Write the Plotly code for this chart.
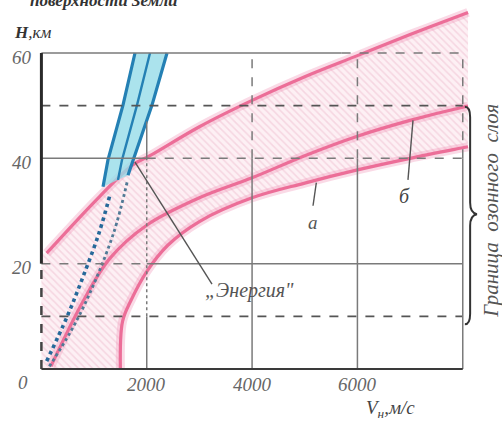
import plotly.graph_objects as go

# ---- data -------------------------------------------------------------
speed_ticks = [2000, 4000, 6000]
speed_tick_labels = ["2000", "4000", "6000"]
alt_ticks = [20, 40, 60]
alt_tick_labels = ["20", "40", "60"]
ozone_bounds = [10, 50]
v_max = 8000
h_max = 60

# outer (upper-left) edge of the corridor
upper_v = [100, 1100, 1740, 2060, 3000, 4000, 5000, 6000, 7000, 8000, 8100]
upper_h = [22.0, 32.7, 38.8, 40.5, 46.0, 51.0, 55.5, 59.5, 63.5, 67.3, 67.7]
# curve "б"
middle_v = [180, 800, 1300, 2000, 3000, 4000, 5000, 6000, 7000, 8000, 8100]
middle_h = [0.5, 13.0, 21.0, 27.3, 32.5, 36.3, 40.5, 44.2, 47.2, 49.7, 49.9]
# curve "а"
lower_v = [1500, 1540, 1700, 2000, 2400, 3000, 4000, 5000, 6000, 7000, 8000, 8100]
lower_h = [0.0, 9.0, 13.0, 18.5, 23.5, 28.0, 32.5, 35.3, 37.8, 40.0, 42.0, 42.2]

# "Энергия" ascent trajectory, upper part (solid band)
energy_left_v = [1170, 1264, 1549, 1777]
energy_left_h = [34.6, 39.7, 50.1, 60.0]
energy_mid_v = [1454, 1530, 1815, 2062]
energy_mid_h = [35.9, 39.7, 50.1, 60.0]
energy_right_v = [1644, 1740, 2100, 2385]
energy_right_h = [36.8, 39.7, 50.1, 60.0]
# lower part (dotted)
energy_low_a_v = [100, 486, 790, 1100, 1300]
energy_low_a_h = [1.5, 9.9, 17.5, 26.0, 33.0]
energy_low_b_v = [150, 550, 920, 1370, 1640]
energy_low_b_h = [0.5, 7.0, 14.4, 25.8, 36.0]

SERIF = "Liberation Serif, DejaVu Serif, serif"
PINK = "#ec6e98"
BLUE = "#2480b4"
GRID = "#7a7a7a"

fig = go.Figure()

# hatched corridor
band_x = [0] + upper_v + lower_v[::-1] + [0]
band_y = [upper_h[0]] + upper_h + lower_h[::-1] + [0]
fig.add_trace(go.Scatter(
    x=band_x, y=band_y, mode="lines", fill="toself",
    fillcolor="#fdf0f4", line=dict(width=0),
    fillpattern=dict(shape="\\", bgcolor="#fdf0f4", fgcolor="#eebccd",
                     size=5, solidity=0.3),
    hoverinfo="skip", showlegend=False))

# ---- grid -----------------------------------------------------------
shapes = []

def seg(x0, y0, x1, y1, dash="solid", color=GRID, width=1.5):
    shapes.append(dict(type="line", xref="x", yref="y", x0=x0, y0=y0,
                       x1=x1, y1=y1,
                       line=dict(color=color, width=width, dash=dash)))

# horizontal lines
seg(0, 60, 5700, 60)
seg(5700, 60, v_max, 60, "dash")
seg(0, 40, 2000, 40)
seg(2000, 40, v_max, 40, "dash")
seg(0, 20, 2000, 20, "dash")
seg(2000, 20, v_max, 20)
for hb in ozone_bounds:
    seg(0, hb, v_max, hb, "dash", "#555555", 1.6)
# vertical lines
seg(2000, 0, 2000, 10)
seg(2000, 10, 2000, 40, "dot")
seg(2000, 40, 2000, 47)
for vx in [4000, 6000, v_max]:
    seg(vx, 0, vx, 40)
    seg(vx, 40, vx, 60, "dash")
# axes
seg(0, 20, 0, 60, color="#2a2a2a", width=3)
seg(0, 0, 0, 20, "dash", "#444444", 2.5)
seg(0, 0, v_max, 0, color="#3a3a3a", width=2.2)

# brace marking the ozone layer
shapes.append(dict(
    type="path", xref="x", yref="y",
    path=("M 8040,49.8 Q 8140,49.8 8140,47.8 L 8140,31.6 "
          "Q 8140,29.6 8270,29.4 Q 8140,29.2 8140,27.2 L 8140,10.5 "
          "Q 8140,8.5 8040,8.5"),
    line=dict(color="#333333", width=2)))

# ---- corridor edges --------------------------------------------------
for xs, ys in [(upper_v, upper_h), (middle_v, middle_h), (lower_v, lower_h)]:
    fig.add_trace(go.Scatter(x=xs, y=ys, mode="lines", line_shape="spline",
                             line=dict(color="rgba(242,150,182,0.35)", width=9),
                             hoverinfo="skip", showlegend=False))
    fig.add_trace(go.Scatter(x=xs, y=ys, mode="lines", line_shape="spline",
                             line=dict(color=PINK, width=3.2),
                             hoverinfo="skip", showlegend=False))

# ---- "Энергия" trajectory --------------------------------------------
fig.add_trace(go.Scatter(
    x=energy_left_v + energy_right_v[::-1],
    y=energy_left_h + energy_right_h[::-1],
    mode="lines", fill="toself", fillcolor="rgba(150,220,232,0.8)",
    line=dict(width=0), hoverinfo="skip", showlegend=False))
for xs, ys, w in [(energy_left_v, energy_left_h, 3.2),
                  (energy_mid_v, energy_mid_h, 2.4),
                  (energy_right_v, energy_right_h, 3.2)]:
    fig.add_trace(go.Scatter(x=xs, y=ys, mode="lines",
                             line=dict(color=BLUE, width=w),
                             hoverinfo="skip", showlegend=False))
for xs, ys, c, w in [(energy_low_a_v, energy_low_a_h, "#26699a", 3.6),
                     (energy_low_b_v, energy_low_b_h, "#517a96", 2.8)]:
    fig.add_trace(go.Scatter(x=xs, y=ys, mode="lines", line_shape="spline",
                             line=dict(color=c, width=w, dash="dot"),
                             hoverinfo="skip", showlegend=False))

# leader lines
seg(1777, 39.3, 3239, 16.1, color="#555555", width=1.4)
seg(5157, 31.0, 5220, 35.4, color="#555555", width=1.4)
seg(6960, 35.9, 7055, 47.2, color="#555555", width=1.4)

# ---- text ------------------------------------------------------------
ann = []

def text(x, y, s, size=18, color="#555555", xanchor="center", angle=0,
         family=SERIF):
    ann.append(dict(x=x, y=y, xref="x", yref="y", text=s, showarrow=False,
                    xanchor=xanchor, yanchor="middle", textangle=angle,
                    font=dict(family=family, size=size, color=color)))

for h, lab in zip(alt_ticks, alt_tick_labels):
    text(-368, h - 0.8, "<i>" + lab + "</i>", size=19, color="#666666")
text(-350, -2.6, "<i>0</i>", size=19, color="#666666")
for v, lab in zip(speed_ticks, speed_tick_labels):
    text(v, -2.9, "<i>" + lab + "</i>", size=19, color="#666666")

text(-560, 63.8, "<b><i>H</i></b><i>,км</i>", size=17, color="#333333",
     xanchor="left")
text(6130, -7.5, "<i>V<sub>н</sub>,м/с</i>", size=19, color="#444444",
     xanchor="left")
text(5157, 27.9, "<i>а</i>", size=19, color="#555555")
text(6903, 32.8, "<i>б</i>", size=20, color="#444444")
text(3950, 15.0, "<i>„Энергия\"</i>", size=20, color="#555555")
text(8530, 30.0, "<i>Граница  озонного  слоя</i>", size=21,
     color="#555555", angle=-90)
text(-250, 69.95, "<b><i>поверхности Земли</i></b>", size=17,
     color="#333333", xanchor="left")

fig.update_layout(
    width=502, height=422,
    margin=dict(l=0, r=0, t=0, b=0),
    paper_bgcolor="white", plot_bgcolor="white",
    xaxis=dict(range=[-786, 8745], visible=False, fixedrange=True),
    yaxis=dict(range=[-10.06, 70.06], visible=False, fixedrange=True),
    shapes=shapes, annotations=ann, showlegend=False,
)

fig.write_html("out.html")
